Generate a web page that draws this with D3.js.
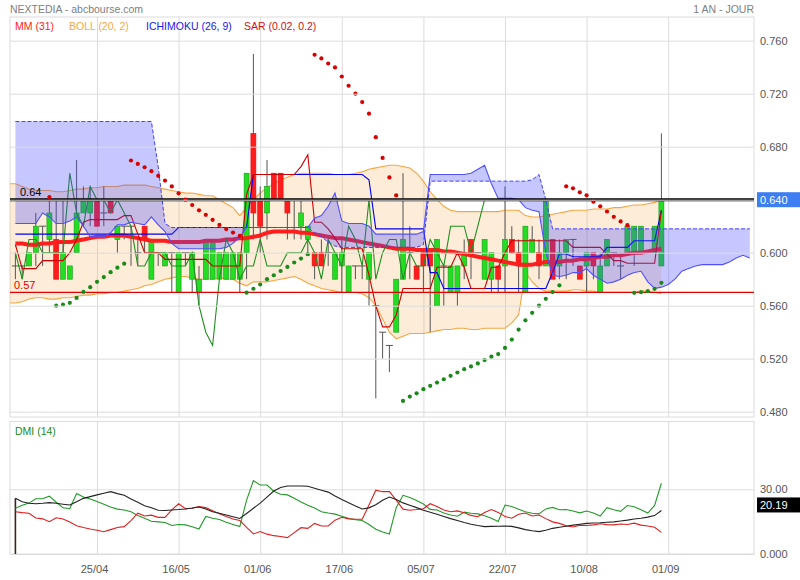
<!DOCTYPE html>
<html><head><meta charset="utf-8">
<script src="https://cdn.jsdelivr.net/npm/d3@7"></script>
<style>
body{margin:0;background:#fff}
svg{font-family:"Liberation Sans",Arial,sans-serif}
</style>
</head><body>
<svg id="c" width="800" height="580"></svg>
<script>
// ---------- DATA ----------
const xTickIdx = [12,24,36,48,60,72,84,96];
const xTickLabels = ["25/04","16/05","01/06","17/06","05/07","22/07","10/08","01/09"];
const yTicks = [0.48,0.52,0.56,0.60,0.64,0.68,0.72,0.76];
const dmiTicks = [0,30];
const dmiTickLabels = ["0.000","30.00"];

const open = [0.59,0.59,0.59,0.60,0.62,0.61,0.61,0.58,0.58,0.60,
 0.63,0.63,0.64,0.63,0.64,0.61,0.62,0.62,0.60,0.62,
 0.58,0.60,0.59,0.60,0.57,0.60,0.58,0.57,0.58,0.58,
 0.58,0.58,0.58,0.58,0.60,0.69,0.64,0.63,0.66,0.66,
 0.64,0.64,0.62,0.61,0.60,0.60,0.60,0.58,0.59,0.57,
 0.59,0.59,0.58,0.56,0.54,0.53,0.54,0.58,0.60,0.59,
 0.60,0.60,0.56,0.59,0.57,0.57,0.59,0.61,0.60,0.58,
 0.58,0.59,0.59,0.61,0.60,0.57,0.60,0.60,0.59,0.61,
 0.59,0.60,0.61,0.59,0.59,0.60,0.57,0.59,0.60,0.59,
 0.60,0.60,0.60,0.60,0.60,0.59];
const high = [0.60,0.59,0.60,0.63,0.62,0.64,0.64,0.64,0.59,0.67,
 0.65,0.65,0.64,0.65,0.64,0.62,0.62,0.62,0.61,0.62,
 0.61,0.60,0.60,0.60,0.60,0.60,0.60,0.59,0.61,0.61,
 0.60,0.60,0.60,0.60,0.66,0.75,0.65,0.67,0.66,0.66,
 0.64,0.64,0.64,0.62,0.60,0.61,0.61,0.60,0.61,0.59,
 0.59,0.59,0.60,0.56,0.54,0.53,0.58,0.66,0.62,0.59,
 0.60,0.60,0.61,0.59,0.59,0.59,0.61,0.61,0.60,0.61,
 0.60,0.59,0.65,0.62,0.61,0.62,0.62,0.61,0.64,0.61,
 0.61,0.61,0.61,0.59,0.60,0.60,0.60,0.61,0.60,0.60,
 0.62,0.62,0.62,0.60,0.62,0.69];
const low = [0.58,0.58,0.59,0.59,0.59,0.60,0.58,0.58,0.58,0.60,
 0.63,0.62,0.62,0.62,0.63,0.60,0.61,0.59,0.59,0.60,
 0.58,0.59,0.59,0.57,0.57,0.59,0.57,0.56,0.58,0.58,
 0.58,0.58,0.58,0.57,0.58,0.61,0.60,0.61,0.64,0.64,
 0.61,0.61,0.61,0.60,0.58,0.59,0.59,0.58,0.57,0.57,
 0.58,0.58,0.56,0.49,0.52,0.51,0.54,0.58,0.58,0.58,
 0.57,0.54,0.56,0.56,0.57,0.56,0.58,0.58,0.60,0.58,
 0.57,0.57,0.57,0.60,0.57,0.57,0.60,0.58,0.59,0.58,
 0.58,0.58,0.59,0.58,0.57,0.58,0.57,0.59,0.59,0.58,
 0.60,0.59,0.60,0.60,0.60,0.59];
const close = [0.59,0.59,0.60,0.62,0.62,0.63,0.58,0.60,0.59,0.63,
 0.64,0.64,0.62,0.63,0.63,0.62,0.62,0.62,0.60,0.61,
 0.61,0.60,0.60,0.60,0.60,0.60,0.60,0.58,0.61,0.61,
 0.60,0.60,0.60,0.60,0.66,0.63,0.62,0.65,0.64,0.64,
 0.63,0.64,0.63,0.62,0.59,0.59,0.60,0.60,0.60,0.59,
 0.59,0.59,0.60,0.56,0.54,0.53,0.58,0.61,0.60,0.58,
 0.59,0.59,0.61,0.59,0.59,0.59,0.60,0.60,0.60,0.61,
 0.60,0.58,0.61,0.60,0.59,0.62,0.61,0.59,0.64,0.58,
 0.60,0.61,0.61,0.58,0.60,0.59,0.59,0.61,0.60,0.59,
 0.62,0.62,0.62,0.60,0.62,0.64];

const mm31 = [0.607,0.607,0.606,0.606,0.607,0.607,0.608,0.608,0.608,0.609,
 0.610,0.611,0.612,0.612,0.613,0.613,0.613,0.612,0.611,0.610,
 0.609,0.609,0.609,0.608,0.608,0.608,0.608,0.608,0.609,0.609,
 0.609,0.610,0.610,0.611,0.611,0.612,0.613,0.615,0.616,0.616,
 0.616,0.616,0.615,0.615,0.614,0.613,0.612,0.611,0.611,0.610,
 0.609,0.608,0.607,0.606,0.605,0.604,0.603,0.603,0.603,0.602,
 0.602,0.602,0.602,0.601,0.601,0.600,0.599,0.598,0.597,0.596,
 0.595,0.594,0.593,0.592,0.591,0.591,0.591,0.592,0.593,0.593,
 0.593,0.594,0.594,0.595,0.595,0.596,0.597,0.597,0.598,0.598,
 0.599,0.600,0.600,0.601,0.602,0.603];

// Bollinger bands, first value is one bar before the first candle
const bollFirstIdx = -1;
const bollUp = [0.652,0.652,0.650,0.648,0.647,0.647,0.647,0.646,0.646,0.647,0.648,
 0.648,0.649,0.649,0.650,0.650,0.650,0.651,0.651,0.651,0.651,
 0.650,0.649,0.648,0.647,0.646,0.645,0.645,0.644,0.643,0.643,
 0.640,0.637,0.634,0.628,0.634,0.640,0.645,0.649,0.652,0.655,
 0.657,0.659,0.660,0.660,0.660,0.660,0.660,0.659,0.659,0.659,
 0.660,0.661,0.663,0.664,0.665,0.666,0.666,0.665,0.664,0.660,
 0.654,0.646,0.640,0.635,0.632,0.631,0.631,0.631,0.631,0.631,
 0.631,0.631,0.632,0.632,0.632,0.628,0.627,0.627,0.628,0.629,
 0.630,0.631,0.632,0.632,0.632,0.633,0.633,0.633,0.634,0.634,
 0.635,0.636,0.636,0.637,0.638,0.640];
const bollLo = [0.562,0.562,0.563,0.565,0.566,0.566,0.565,0.565,0.566,0.566,0.567,
 0.568,0.568,0.569,0.569,0.570,0.570,0.571,0.572,0.573,0.575,
 0.576,0.578,0.580,0.581,0.582,0.582,0.581,0.580,0.580,0.580,
 0.581,0.580,0.580,0.577,0.575,0.578,0.578,0.578,0.579,0.580,
 0.581,0.582,0.580,0.577,0.575,0.573,0.572,0.571,0.570,0.570,
 0.570,0.569,0.566,0.560,0.550,0.540,0.535,0.537,0.539,0.539,
 0.539,0.540,0.541,0.542,0.542,0.543,0.543,0.542,0.542,0.543,
 0.543,0.543,0.543,0.547,0.553,0.585,0.578,0.573,0.571,0.571,
 0.571,0.571,0.572,0.572,0.571,0.571,0.570,0.570,0.570,0.570,
 0.570,0.570,0.571,0.571,0.570,0.569];

// Ichimoku
const tenkan = [0.606,0.588,0.588,0.588,0.594,0.594,0.594,0.594,0.600,0.610,
 0.623,0.625,0.625,0.625,0.625,0.625,0.628,0.628,0.614,0.600,
 0.600,0.600,0.595,0.595,0.595,0.595,0.595,0.595,0.595,0.590,
 0.590,0.590,0.590,0.590,0.644,0.659,0.659,0.659,0.659,0.659,
 0.659,0.659,0.665,0.674,0.623,0.623,0.618,0.611,0.603,0.603,
 0.603,0.603,0.583,0.560,0.544,0.544,0.553,0.573,0.573,0.573,
 0.573,0.573,0.589,0.589,0.589,0.600,0.589,0.573,0.573,0.573,
 0.589,0.589,0.600,0.609,0.609,0.609,0.609,0.609,0.609,0.609,
 0.609,0.609,0.604,0.604,0.604,0.604,0.604,0.599,0.594,0.594,
 0.592,0.592,0.592,0.592,0.592,0.632];
const kijun = [0.614,0.614,0.614,0.614,0.614,0.614,0.614,0.614,0.614,0.614,
 0.614,0.614,0.614,0.614,0.614,0.614,0.614,0.614,0.614,0.614,
 0.614,0.614,0.614,0.614,0.619,0.619,0.619,0.619,0.619,0.619,
 0.619,0.619,0.619,0.619,0.619,0.659,0.659,0.659,0.659,0.659,
 0.659,0.659,0.659,0.659,0.659,0.659,0.659,0.659,0.659,0.659,
 0.659,0.659,0.655,0.618,0.618,0.618,0.618,0.618,0.618,0.618,
 0.618,0.585,0.585,0.573,0.573,0.573,0.573,0.573,0.573,0.573,
 0.573,0.573,0.573,0.573,0.573,0.573,0.573,0.573,0.573,0.585,
 0.599,0.599,0.597,0.597,0.597,0.597,0.597,0.604,0.604,0.604,
 0.604,0.609,0.609,0.609,0.609,0.632];
const chikou = [0.60,0.58,0.61,0.61,0.60,0.60,0.60,0.60,0.66,0.63,
 0.62,0.65,0.64,0.64,0.63,0.64,0.63,0.62,0.59,0.59,
 0.60,0.60,0.60,0.59,0.59,0.59,0.60,0.56,0.54,0.53,
 0.58,0.61,0.60,0.58,0.59,0.59,0.61,0.59,0.59,0.59,
 0.60,0.60,0.60,0.61,0.60,0.58,0.61,0.60,0.59,0.62,
 0.61,0.59,0.64,0.58,0.60,0.61,0.61,0.58,0.60,0.59,
 0.59,0.61,0.60,0.59,0.62,0.62,0.62,0.60,0.62,0.64];
const senkouA = [0.622,0.622,0.622,0.622,0.630,0.627,0.622,0.622,0.624,0.627,
 0.620,0.612,0.612,0.612,0.615,0.621,0.621,0.623,0.622,0.621,
 0.627,0.621,0.616,0.607,0.603,0.603,0.603,0.603,0.603,0.603,
 0.603,0.604,0.607,0.612,0.619,0.619,0.619,0.619,0.619,0.619,
 0.619,0.619,0.619,0.619,0.626,0.628,0.635,0.645,0.624,0.622,
 0.622,0.622,0.620,0.614,0.614,0.614,0.614,0.614,0.614,0.614,
 0.616,0.659,0.659,0.659,0.659,0.659,0.659,0.660,0.663,0.666,
 0.652,0.641,0.641,0.641,0.640,0.634,0.632,0.631,0.600,0.583,
 0.582,0.583,0.585,0.585,0.588,0.583,0.580,0.577,0.578,0.580,
 0.583,0.585,0.586,0.578,0.573,0.574,0.576,0.580,0.586,0.588,
 0.590,0.591,0.591,0.591,0.591,0.593,0.596,0.598,0.596];
const senkouB = [0.699,0.699,0.699,0.699,0.699,0.699,0.699,0.699,0.699,0.699,
 0.699,0.699,0.699,0.699,0.699,0.699,0.699,0.699,0.699,0.699,
 0.699,0.665,0.622,0.619,0.619,0.619,0.619,0.619,0.619,0.619,
 0.619,0.619,0.619,0.619,0.619,0.619,0.619,0.619,0.619,0.619,
 0.619,0.619,0.619,0.619,0.615,0.612,0.608,0.605,0.604,0.604,
 0.604,0.604,0.604,0.604,0.604,0.604,0.604,0.604,0.604,0.604,
 0.606,0.654,0.654,0.654,0.654,0.654,0.654,0.654,0.654,0.654,
 0.654,0.654,0.654,0.654,0.654,0.654,0.655,0.659,0.640,0.618,
 0.618,0.618,0.618,0.618,0.618,0.618,0.618,0.618,0.618,0.618,
 0.618,0.618,0.618,0.618,0.618,0.618,0.618,0.618,0.618,0.618,
 0.618,0.618,0.618,0.618,0.618,0.618,0.618,0.618,0.618];

// Parabolic SAR (null = no dot)
const sar = [null,null,null,null,null,0.642,0.560,0.5608,0.5622,0.5659,
 0.5704,0.574,0.578,0.5816,0.5853,0.5887,0.5917,0.6696,0.667,0.6645,
 0.6615,0.658,0.6544,0.650,0.6448,0.640,0.636,0.632,0.6286,0.6248,
 0.621,0.6178,0.6152,0.6127,0.5698,0.5728,0.576,0.580,0.583,0.5862,
 0.5893,0.5926,0.5956,0.5989,0.7494,0.7466,0.7428,0.7398,0.733,0.726,
 0.720,0.7137,0.7049,0.6872,0.6715,0.6568,0.6432,0.4881,0.4914,0.4939,
 0.497,0.4995,0.502,0.5045,0.5071,0.5096,0.5121,0.5142,0.5164,0.519,
 0.5215,0.5235,0.5281,0.5344,0.542,0.549,0.5546,0.560,0.5652,0.5703,
 0.5754,0.6501,0.6486,0.6456,0.6433,0.6385,0.635,0.6311,0.6271,0.6236,
 0.6208,0.5697,0.5702,0.571,0.5727,0.5773];

const supportLevel = 0.57, resistanceLevel = 0.64;
const lastPrice = 0.640;

// DMI (14)
const diPlus = [21.2,22.6,23.6,25.6,25.6,26.8,24.0,21.4,21.0,28.0,
 26.4,25.5,24.3,23.1,21.8,20.8,20.4,19.6,17.9,16.6,
 15.2,14.9,14.6,13.2,13.7,13.5,12.6,11.6,17.4,16.6,
 16.0,14.7,13.7,12.7,25.0,34.0,32.0,32.0,29.1,27.7,
 27.4,25.8,24.1,22.6,21.3,19.6,19.0,18.5,17.5,16.6,
 15.9,15.5,13.7,11.5,10.2,9.3,21.5,27.2,26.2,24.8,
 23.2,20.7,20.4,19.0,18.1,17.5,19.4,18.9,18.6,17.7,
 16.6,15.1,22.7,22.0,20.7,19.6,18.9,18.6,20.9,21.6,
 20.5,20.6,19.9,19.1,19.9,19.0,17.6,21.5,20.5,19.8,
 22.5,21.9,20.5,19.0,22.5,32.8];
const diMinus = [19.6,19.2,18.9,16.7,16.3,15.0,16.8,16.2,14.8,13.1,
 12.3,11.6,11.0,10.3,11.3,12.3,12.7,15.5,18.9,17.6,
 18.0,17.0,17.0,20.5,23.3,21.0,21.2,22.0,21.5,20.1,
 18.7,17.4,16.2,15.5,12.3,9.3,10.4,9.2,8.5,8.1,
 7.6,9.9,12.2,11.9,14.2,13.0,13.0,15.7,17.0,16.3,
 16.1,16.1,22.7,29.6,28.9,28.9,25.0,20.8,20.3,20.6,
 21.0,23.3,22.0,20.4,19.6,20.0,19.1,17.9,17.3,19.2,
 20.6,19.3,17.4,16.6,18.4,19.0,17.6,18.1,16.4,14.9,
 14.2,13.1,12.5,13.4,13.2,13.5,14.0,13.6,13.5,13.9,
 13.7,14.3,13.4,13.0,12.4,10.0];
const adx = [25.8,24.2,23.5,23.3,23.5,23.8,23.5,23.1,22.7,24.2,
 25.8,26.6,27.4,28.2,28.9,28.0,27.2,25.5,24.0,22.4,
 21.4,20.3,20.2,20.4,20.6,20.9,21.3,21.8,20.9,19.6,
 18.9,18.1,17.3,16.5,18.8,21.2,23.6,26.4,29.2,30.8,
 31.5,31.5,31.5,31.4,30.5,29.6,28.7,26.9,25.3,23.8,
 22.3,20.9,21.4,22.8,24.9,26.4,25.3,23.7,22.6,21.5,
 20.3,19.4,18.4,17.4,16.4,15.5,14.6,13.8,13.2,12.7,
 12.8,12.9,13.0,12.8,12.1,11.3,10.8,10.4,11.0,11.9,
 12.4,12.9,13.4,13.8,14.2,14.4,14.5,14.7,14.9,15.3,
 15.7,16.2,16.6,17.1,17.8,20.19];

// ---------- DRAWING ----------
const svg = d3.select('#c');
const L = 10, R = 754, T = 17, B = 417, DT = 421.5, DB = 554;
const xs = d3.scaleLinear().domain([0, 96]).range([15.4, 668.2]);
const py = d3.scaleLinear().domain([0.48, 0.76]).range([411.7, 40.7]);
const dy = d3.scaleLinear().domain([0, 30]).range([DB, 489.3]);
const GRID = '#dcdcdc';
const FONT = '"Liberation Sans",Arial,sans-serif';
const AX = 11, LG = 10.5;

svg.append('rect').attr('width', 800).attr('height', 580).attr('fill', '#fff');

// header
svg.append('text').attr('x', 10).attr('y', 13).attr('font-size', LG).attr('fill', '#808080').text('NEXTEDIA - abcbourse.com');
svg.append('text').attr('x', 754).attr('y', 13).attr('font-size', LG).attr('fill', '#808080').attr('text-anchor', 'end').text('1 AN - JOUR');

// main grid
const gy = svg.append('g').attr('transform', `translate(${R},0)`)
  .call(d3.axisRight(py).tickValues(yTicks).tickSize(-(R - L)).tickPadding(6).tickFormat(d3.format('.3f')));
gy.select('.domain').remove();
gy.selectAll('line').attr('stroke', GRID);
gy.selectAll('text').attr('font-size', AX).attr('fill', '#555').attr('font-family', FONT);

const gx = svg.append('g').attr('transform', `translate(0,${B})`)
  .call(d3.axisBottom(xs).tickValues(xTickIdx).tickSize(-(B - T)).tickFormat(''));
gx.select('.domain').remove();
gx.selectAll('line').attr('stroke', GRID);

svg.append('rect').attr('x', L).attr('y', T).attr('width', R - L).attr('height', B - T)
  .attr('fill', 'none').attr('stroke', GRID);

// clip
svg.append('clipPath').attr('id', 'mc').append('rect').attr('x', L).attr('y', T).attr('width', R - L).attr('height', B - T);
const plot = svg.append('g').attr('clip-path', 'url(#mc)');

// Bollinger
const bollData = bollUp.map((u, k) => ({ i: k + bollFirstIdx, u, l: bollLo[k] }));
plot.append('path').datum(bollData)
  .attr('d', d3.area().x(d => xs(d.i)).y0(d => py(d.l)).y1(d => py(d.u)))
  .attr('fill', 'rgba(245,160,60,0.2)');
['u', 'l'].forEach(key => {
  plot.append('path').datum(bollData)
    .attr('d', d3.line().x(d => xs(d.i)).y(d => py(d[key])))
    .attr('fill', 'none').attr('stroke', '#f6a641').attr('stroke-width', 1.1);
});

// candles
const bars = d3.range(open.length);
plot.append('g').selectAll('line').data(bars).join('line')
  .attr('x1', i => xs(i)).attr('x2', i => xs(i))
  .attr('y1', i => py(high[i])).attr('y2', i => py(low[i]))
  .attr('stroke', '#555').attr('stroke-width', 1);
plot.append('g').selectAll('line').data(bars.filter(i => open[i] === close[i])).join('line')
  .attr('x1', i => xs(i) - 3.5).attr('x2', i => xs(i) + 3.5)
  .attr('y1', i => py(close[i])).attr('y2', i => py(close[i]))
  .attr('stroke', '#555').attr('stroke-width', 1);
plot.append('g').selectAll('rect').data(bars.filter(i => open[i] !== close[i])).join('rect')
  .attr('x', i => xs(i) - 2.5).attr('width', 5)
  .attr('y', i => py(Math.max(open[i], close[i])))
  .attr('height', i => Math.abs(py(open[i]) - py(close[i])))
  .attr('fill', i => close[i] > open[i] ? '#22dd22' : '#ff1c1c')
  .attr('stroke', i => close[i] > open[i] ? '#1a9a1a' : '#e01010').attr('stroke-width', 0.6);

// MM(31)
plot.append('path').datum(mm31)
  .attr('d', d3.line().x((d, i) => xs(i)).y(d => py(d)))
  .attr('fill', 'none').attr('stroke', '#ff1e1e').attr('stroke-width', 4).attr('stroke-linejoin', 'round');

// Ichimoku lines
plot.append('path').datum(chikou)
  .attr('d', d3.line().x((d, i) => xs(i)).y(d => py(d)))
  .attr('fill', 'none').attr('stroke', '#1f8f1f').attr('stroke-width', 1.1);
plot.append('path').datum(kijun)
  .attr('d', d3.line().x((d, i) => xs(i)).y(d => py(d)))
  .attr('fill', 'none').attr('stroke', '#0000ee').attr('stroke-width', 1.1);
plot.append('path').datum(tenkan)
  .attr('d', d3.line().x((d, i) => xs(i)).y(d => py(d)))
  .attr('fill', 'none').attr('stroke', '#cc0000').attr('stroke-width', 1.1);

// cloud
plot.append('path').datum(senkouA)
  .attr('d', d3.area().x((d, i) => xs(i)).y0(d => py(d)).y1((d, i) => py(senkouB[i])))
  .attr('fill', 'rgba(70,70,255,0.3)');
plot.append('path').datum(senkouA)
  .attr('d', d3.line().x((d, i) => xs(i)).y(d => py(d)))
  .attr('fill', 'none').attr('stroke', '#5050ff').attr('stroke-width', 1.1);
plot.append('path').datum(senkouB)
  .attr('d', d3.line().x((d, i) => xs(i)).y(d => py(d)))
  .attr('fill', 'none').attr('stroke', '#4040ff').attr('stroke-width', 1).attr('stroke-dasharray', '4,2');

// levels
plot.append('line').attr('x1', L).attr('x2', R).attr('y1', py(resistanceLevel)).attr('y2', py(resistanceLevel))
  .attr('stroke', '#000').attr('stroke-width', 3);
plot.append('line').attr('x1', L).attr('x2', R).attr('y1', py(supportLevel)).attr('y2', py(supportLevel))
  .attr('stroke', '#e00000').attr('stroke-width', 1.2);
svg.append('text').attr('x', 20).attr('y', py(resistanceLevel) - 4).attr('font-size', AX).attr('fill', '#000').text(resistanceLevel.toFixed(2));
svg.append('text').attr('x', 14).attr('y', py(supportLevel) - 3).attr('font-size', AX).attr('fill', '#e00000').text(supportLevel.toFixed(2));

// SAR
plot.append('g').selectAll('circle').data(bars.filter(i => sar[i] !== null)).join('circle')
  .attr('cx', i => xs(i)).attr('cy', i => py(sar[i])).attr('r', 2.1)
  .attr('fill', i => sar[i] > close[i] ? '#d80000' : '#1a8a1a');

// last price tag
svg.append('rect').attr('x', 757).attr('y', py(lastPrice) - 7.5).attr('width', 43).attr('height', 15).attr('fill', '#3d7ef2');
gy.raise();
gy.selectAll('.tick').filter(d => Math.abs(d - lastPrice) < 1e-9).select('text').attr('fill', '#fff');

// legend
const legend = [["MM (31)", "#ff1a1a", 15], ["BOLL (20, 2)", "#f7a848", 69], ["ICHIMOKU (26, 9)", "#2020e6", 146], ["SAR (0.02, 0.2)", "#d41010", 244]];
legend.forEach(([t, c, x]) => svg.append('text').attr('x', x).attr('y', 29.5).attr('font-size', LG).attr('fill', c).text(t));

// ---------- DMI panel ----------
const gdy = svg.append('g').attr('transform', `translate(${R},0)`)
  .call(d3.axisRight(dy).tickValues(dmiTicks).tickSize(-(R - L)).tickPadding(6).tickFormat((d, i) => dmiTickLabels[i]));
gdy.select('.domain').remove();
gdy.selectAll('line').attr('stroke', GRID);
gdy.selectAll('text').attr('font-size', AX).attr('fill', '#555').attr('font-family', FONT);

const gdx = svg.append('g').attr('transform', `translate(0,${DB})`)
  .call(d3.axisBottom(xs).tickValues(xTickIdx).tickSize(-(DB - DT)).tickPadding(11).tickFormat((d, i) => xTickLabels[i]));
gdx.select('.domain').remove();
gdx.selectAll('line').attr('stroke', GRID);
gdx.selectAll('text').attr('font-size', AX).attr('fill', '#555').attr('dx', -3).attr('font-family', FONT);

svg.append('rect').attr('x', L).attr('y', DT).attr('width', R - L).attr('height', DB - DT)
  .attr('fill', 'none').attr('stroke', GRID);
svg.append('text').attr('x', 15).attr('y', 435).attr('font-size', LG).attr('fill', '#1a8a1a').text('DMI (14)');

const dmiLine = d3.line().x((d, i) => xs(i)).y(d => dy(d));
svg.append('line').attr('x1', xs(0)).attr('x2', xs(0)).attr('y1', dy(0)).attr('y2', dy(adx[0]))
  .attr('stroke', '#3c2418').attr('stroke-width', 1.6);
svg.append('path').datum(diPlus).attr('d', dmiLine).attr('fill', 'none').attr('stroke', '#23992a').attr('stroke-width', 1.1);
svg.append('path').datum(diMinus).attr('d', dmiLine).attr('fill', 'none').attr('stroke', '#dd2020').attr('stroke-width', 1.1);
svg.append('path').datum(adx).attr('d', dmiLine).attr('fill', 'none').attr('stroke', '#222').attr('stroke-width', 1.1);

const lastAdx = adx[adx.length - 1];
svg.append('rect').attr('x', 757).attr('y', dy(lastAdx) - 13).attr('width', 43).attr('height', 15).attr('fill', '#000');
svg.append('text').attr('x', 760).attr('y', dy(lastAdx) - 1.5).attr('font-size', AX).attr('fill', '#fff').text(lastAdx.toFixed(2));
</script>
</body></html>
